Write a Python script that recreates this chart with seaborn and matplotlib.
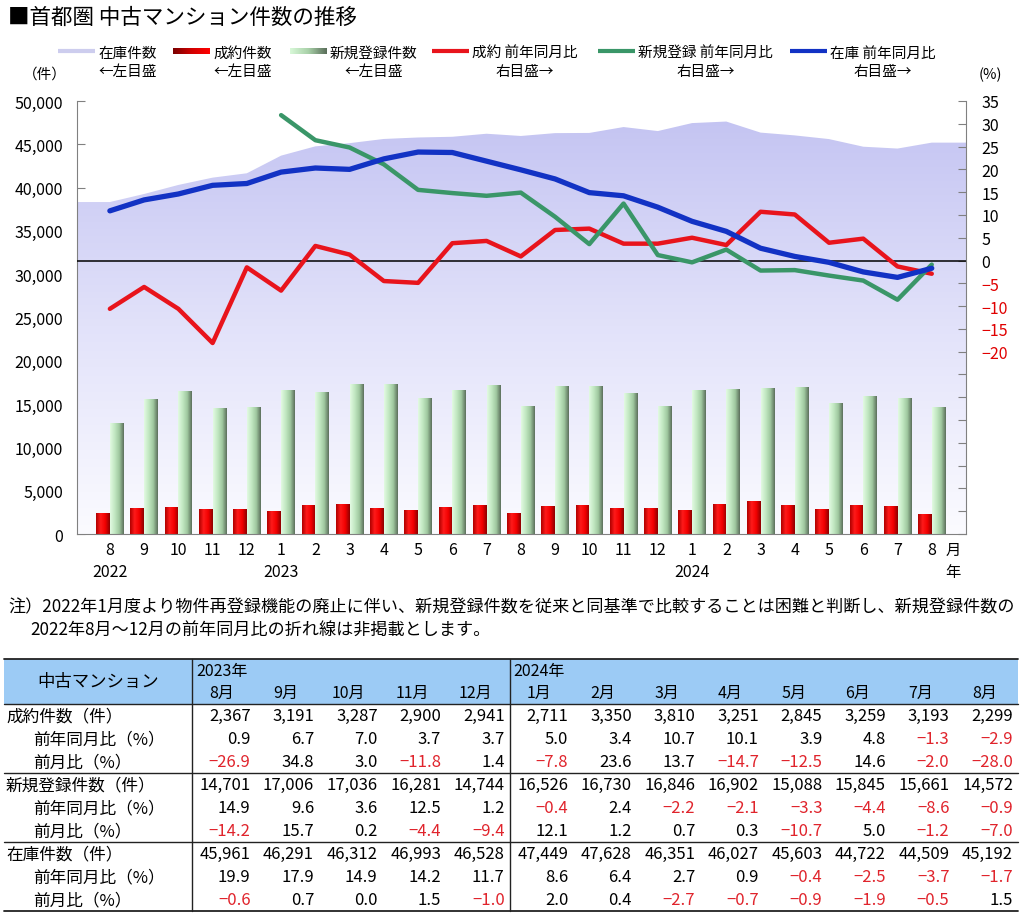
import numpy as np
import pandas as pd
import matplotlib
matplotlib.use("Agg")
import matplotlib.pyplot as plt
import seaborn as sns
from matplotlib.colors import LinearSegmentedColormap

# ---- data: 2022/8 .. 2024/8 ----
xtick_labels = ['8\n2022', '9', '10', '11', '12', '1\n2023', '2', '3', '4', '5', '6', '7',
                '8', '9', '10', '11', '12', '1\n2024', '2', '3', '4', '5', '6', '7', '8']

contracts = [2346, 2991, 3072, 2797, 2836, 2582, 3240, 3442, 2953, 2738, 3110, 3235,
             2367, 3191, 3287, 2900, 2941, 2711, 3350, 3810, 3251, 2845, 3259, 3193, 2299]
new_listings = [12795, 15516, 16444, 14472, 14569, 16592, 16338, 17225, 17265, 15603, 16574, 17135,
                14701, 17006, 17036, 16281, 14744, 16526, 16730, 16846, 16902, 15088, 15845, 15661, 14572]
inventory = [38333, 39263, 40306, 41150, 41654, 43691, 44763, 45132, 45616, 45786, 45869, 46219,
             45961, 46291, 46312, 46993, 46528, 47449, 47628, 46351, 46027, 45603, 44722, 44509, 45192]

contract_yoy = [-10.6, -5.8, -10.6, -18.1, -1.5, -6.6, 3.2, 1.3, -4.5, -4.9, 3.8, 4.3,
                0.9, 6.7, 7.0, 3.7, 3.7, 5.0, 3.4, 10.7, 10.1, 3.9, 4.8, -1.3, -2.9]
new_yoy = np.array([np.nan, np.nan, np.nan, np.nan, np.nan, 31.9, 26.4, 24.8, 21.1, 15.5, 14.8, 14.2,
                    14.9, 9.6, 3.6, 12.5, 1.2, -0.4, 2.4, -2.2, -2.1, -3.3, -4.4, -8.6, -0.9])
inv_yoy = [10.9, 13.3, 14.6, 16.5, 16.9, 19.4, 20.3, 20.0, 22.3, 23.8, 23.7, 21.8,
           19.9, 17.9, 14.9, 14.2, 11.7, 8.6, 6.4, 2.7, 0.9, -0.4, -2.5, -3.7, -1.7]

# table (2023/8 .. 2024/8)
months_2023 = ['8月', '9月', '10月', '11月', '12月']
months_2024 = ['1月', '2月', '3月', '4月', '5月', '6月', '7月', '8月']
contract_mom = [-26.9, 34.8, 3.0, -11.8, 1.4, -7.8, 23.6, 13.7, -14.7, -12.5, 14.6, -2.0, -28.0]
new_mom = [-14.2, 15.7, 0.2, -4.4, -9.4, 12.1, 1.2, 0.7, 0.3, -10.7, 5.0, -1.2, -7.0]
inv_mom = [-0.6, 0.7, 0.0, 1.5, -1.0, 2.0, 0.4, -2.7, -0.7, -0.9, -1.9, -0.5, 1.5]

RED_LINE = '#E8141C'
GREEN_LINE = '#3A9668'
BLUE_LINE = '#1232C4'
NEG_RED = '#E0242C'

sns.set_style('white')
plt.rcParams['font.family'] = ['Noto Sans CJK JP', 'DejaVu Sans']
plt.rcParams['text.color'] = 'black'
plt.rcParams['axes.labelcolor'] = 'black'
plt.rcParams['xtick.color'] = 'black'
plt.rcParams['ytick.color'] = 'black'

fig = plt.figure(figsize=(10.24, 9.2), dpi=100)
ax = fig.add_axes([77 / 1024, 1 - 535 / 920, 889 / 1024, 433 / 920])
n = len(inventory)
idx = np.arange(n)
XL, XR = -0.96, 25.0

# stock area with vertical gradient
xa = np.r_[XL, idx, XR]
ya = np.r_[inventory[0], inventory, inventory[-1]]
area = ax.fill_between(xa, ya, color='none', lw=0, zorder=1)
cm_area = LinearSegmentedColormap.from_list('stock', ['#FBFBFF', '#E2E2FA', '#C4C4F2'])
im = ax.imshow(np.linspace(0, 1, 256).reshape(-1, 1), cmap=cm_area, origin='lower',
               extent=[XL, XR, 0, 48000], aspect='auto', zorder=1)
im.set_clip_path(area.get_paths()[0], ax.transData)

# bars
bars = pd.DataFrame({'month': np.tile(idx, 2),
                     'series': ['成約件数'] * n + ['新規登録件数'] * n,
                     'count': contracts + new_listings})
sns.barplot(data=bars, x='month', y='count', hue='series', hue_order=['成約件数', '新規登録件数'],
            palette=['#FF0000', '#A8D8A8'], width=0.8, errorbar=None, legend=False, ax=ax, zorder=2)
bar_cols = [['#B00000', '#FF1A1A', '#F20000', '#8E0000'],
            ['#E2FAE2', '#C2E8C2', '#A0C8A0', '#5C705C']]
for cont, cols in zip(ax.containers, bar_cols):
    cm = LinearSegmentedColormap.from_list('bar', cols)
    for p in cont:
        x0, w, h = p.get_x(), p.get_width(), p.get_height()
        ax.imshow(np.linspace(0, 1, 64).reshape(1, -1), cmap=cm, extent=[x0, x0 + w, 0, h],
                  aspect='auto', zorder=2)
        p.set_visible(False)

ax.set_xlim(XL, XR)
ax.set_ylim(0, 50000)
ax.set_xlabel('')
ax.set_ylabel('')
ax.set_xticks(idx)
ax.set_xticklabels(xtick_labels)
for lbl in ax.get_xticklabels():
    lbl.set_linespacing(1.4)
ax.set_yticks(range(0, 50001, 5000))
ax.set_yticklabels([f'{v:,}' for v in range(0, 50001, 5000)])
ax.tick_params(axis='y', direction='in', length=6, color='#808080', labelsize=11.5, pad=10, left=True)
ax.tick_params(axis='x', length=0, pad=5, labelsize=11.5)

# YoY lines on right axis
ax2 = ax.twinx()
ax2.axhline(0, color='black', lw=1.1, zorder=1)
sns.lineplot(x=idx, y=contract_yoy, ax=ax2, color=RED_LINE, lw=3.2)
sns.lineplot(x=idx, y=new_yoy, ax=ax2, color=GREEN_LINE, lw=3.2)
sns.lineplot(x=idx, y=inv_yoy, ax=ax2, color=BLUE_LINE, lw=3.8)
ax2.set_ylim(-60, 35)
ax2.set_xlim(XL, XR)
ax2.set_ylabel('')
rticks = list(range(-60, 36, 5))
ax2.set_yticks(rticks)
ax2.set_yticklabels([('−' + str(-v) if v < 0 else str(v)) if v >= -20 else '' for v in rticks])
for v, lbl in zip(rticks, ax2.get_yticklabels()):
    if v < 0:
        lbl.set_color('#E00000')
ax2.tick_params(axis='y', direction='in', length=6, color='#808080', labelsize=11.5, pad=11, right=True)

for a in (ax, ax2):
    a.spines['top'].set_visible(False)
    for s in a.spines.values():
        s.set_color('#808080')
ax.spines['right'].set_visible(False)
ax2.spines['left'].set_visible(False)
ax2.spines['bottom'].set_visible(False)

# ---- overlay in pixel coordinates: title, legend, notes, table ----
ov = fig.add_axes([0, 0, 1, 1])
ov.axis('off')

ov.text(8, 18, '■首都圏 中古マンション件数の推移', fontsize=15.5, va='center', ha='left')
ov.text(45, 75, '（件）', fontsize=10.5, va='center', ha='center')
ov.text(990, 75, '(%)', fontsize=10.5, va='center', ha='center')
ov.text(953, 550, '月', fontsize=11, va='center', ha='center')
ov.text(953, 573, '年', fontsize=11, va='center', ha='center')

# legend
legend_items = [
    (58, '在庫件数\n←左目盛', ('line', '#CDCDEE', 3)),
    (173, '成約件数\n←左目盛', ('grad', ['#7A0000', '#D00000', '#FF0000'], 5)),
    (290, '新規登録件数\n←左目盛', ('grad', ['#D8F8D8', '#A8D0A8', '#5A6E5A'], 5)),
    (432, '成約 前年同月比\n右目盛→', ('line', RED_LINE, 3)),
    (598, '新規登録 前年同月比\n右目盛→', ('line', GREEN_LINE, 3)),
    (790, '在庫 前年同月比\n右目盛→', ('line', BLUE_LINE, 3)),
]
for x, label, (kind, col, lw) in legend_items:
    if kind == 'line':
        ov.plot([x, x + 37], [52, 52], color=col, lw=lw, solid_capstyle='butt')
    else:
        cm = LinearSegmentedColormap.from_list('lg', col)
        ov.imshow(np.linspace(0, 1, 64).reshape(1, -1), cmap=cm, extent=[x, x + 37, 55, 49], aspect='auto')
    ov.text(x + 40, 63, label, fontsize=10.5, va='center', ha='left', multialignment='center',
            linespacing=1.45)

# note
ov.text(8, 607, '注）2022年1月度より物件再登録機能の廃止に伴い、新規登録件数を従来と同基準で比較することは困難と判断し、新規登録件数の',
        fontsize=12.3, va='center', ha='left')
ov.text(30, 630, '2022年8月～12月の前年同月比の折れ線は非掲載とします。', fontsize=12.3, va='center', ha='left')

# table
T_TOP, H_BOT, ROW_H = 660, 705, 23
X0, X1, XR_T = 4, 192, 1018
col_w = (XR_T - X1) / 13
ov.add_patch(plt.Rectangle((X0, T_TOP), XR_T - X0, H_BOT - T_TOP, color='#9CCBF5', lw=0))
ov.text((X0 + X1) / 2, (T_TOP + H_BOT) / 2, '中古マンション', fontsize=12.5, ha='center', va='center')
ov.text(X1 + 4, 672, '2023年', fontsize=11.5, ha='left', va='center')
ov.text(X1 + 5 * col_w + 4, 672, '2024年', fontsize=11.5, ha='left', va='center')
for j, m in enumerate(months_2023 + months_2024):
    ov.text(X1 + (j + 0.5) * col_w - 2, 693, m, fontsize=11.5, ha='center', va='center')

rows = [
    ('成約件数（件）', contracts[12:], 'n'),
    ('前年同月比（%）', contract_yoy[12:], 'p'),
    ('前月比（%）', contract_mom, 'p'),
    ('新規登録件数（件）', new_listings[12:], 'n'),
    ('前年同月比（%）', list(new_yoy[12:]), 'p'),
    ('前月比（%）', new_mom, 'p'),
    ('在庫件数（件）', inventory[12:], 'n'),
    ('前年同月比（%）', inv_yoy[12:], 'p'),
    ('前月比（%）', inv_mom, 'p'),
]
for i, (label, vals, kind) in enumerate(rows):
    yc = H_BOT + (i + 0.5) * ROW_H
    ov.text(6 if kind == 'n' else 33, yc, label, fontsize=12, ha='left', va='center')
    for j, v in enumerate(vals):
        if kind == 'n':
            s, c = f'{v:,}', 'black'
        else:
            s = ('−' if v < 0 else '') + f'{abs(v):.1f}'
            c = NEG_RED if v < 0 else 'black'
        ov.text(X1 + (j + 1) * col_w - 5, yc, s, fontsize=12, ha='right', va='center', color=c)

for yl, lw in [(T_TOP, 1.3), (H_BOT, 1.0), (H_BOT + 3 * ROW_H, 1.0), (H_BOT + 6 * ROW_H, 1.0),
               (H_BOT + 9 * ROW_H, 1.3)]:
    ov.plot([X0, XR_T], [yl, yl], color='#222222', lw=lw)
for xv in (X1, X1 + 5 * col_w):
    ov.plot([xv, xv], [T_TOP, H_BOT + 9 * ROW_H], color='#222222', lw=1.0)

ov.set_xlim(0, 1024)
ov.set_ylim(920, 0)

fig.savefig('out.png', dpi=100)
